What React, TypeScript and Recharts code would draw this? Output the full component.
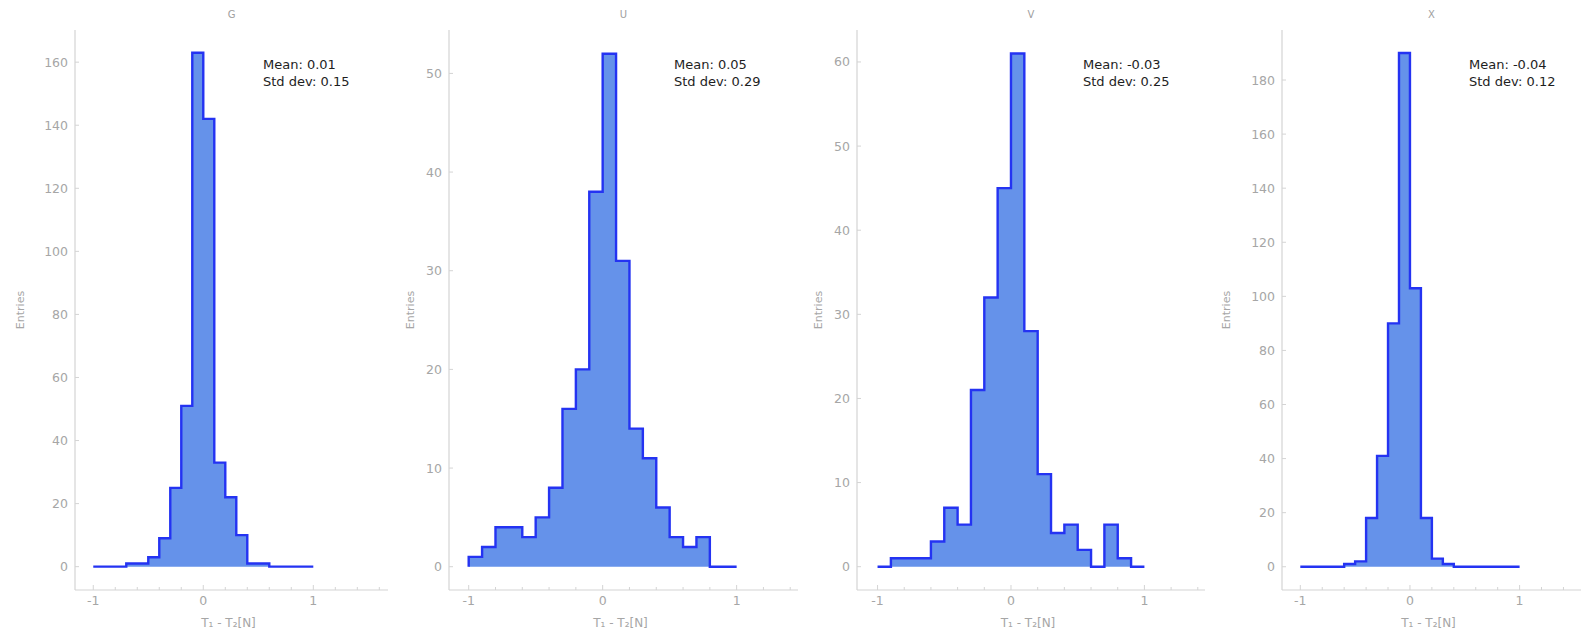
import React from 'react';
import { ComposedChart, Area, XAxis, YAxis } from 'recharts';

// ---------------- data ----------------
const binLeftEdges = [-1, -0.9, -0.8, -0.7, -0.6, -0.5, -0.4, -0.3, -0.2, -0.1, 0, 0.1, 0.2, 0.3, 0.4, 0.5, 0.6, 0.7, 0.8, 0.9];
const rangeMin = -1;
const rangeMax = 1;

const countsG = [0, 0, 0, 1, 1, 3, 9, 25, 51, 163, 142, 33, 22, 10, 1, 1, 0, 0, 0, 0];
const countsU = [1, 2, 4, 4, 3, 5, 8, 16, 20, 38, 52, 31, 14, 11, 6, 3, 2, 3, 0, 0];
const countsV = [0, 1, 1, 1, 3, 7, 5, 21, 32, 45, 61, 28, 11, 4, 5, 2, 0, 5, 1, 0];
const countsX = [0, 0, 0, 0, 1, 2, 18, 41, 90, 190, 103, 18, 3, 1, 0, 0, 0, 0, 0, 0];

const panelTitles = ['G', 'U', 'V', 'X'];
const meanLabels = ['Mean: 0.01', 'Mean: 0.05', 'Mean: -0.03', 'Mean: -0.04'];
const stdLabels = ['Std dev: 0.15', 'Std dev: 0.29', 'Std dev: 0.25', 'Std dev: 0.12'];

const yTicksG = [0, 20, 40, 60, 80, 100, 120, 140, 160];
const yTicksU = [0, 10, 20, 30, 40, 50];
const yTicksV = [0, 10, 20, 30, 40, 50, 60];
const yTicksX = [0, 20, 40, 60, 80, 100, 120, 140, 160, 180];

const xTicksG = [-1, -0.8, -0.6, -0.4, -0.2, 0, 0.2, 0.4, 0.6, 0.8, 1, 1.2, 1.4, 1.6];
const xTicksU = [-1, -0.8, -0.6, -0.4, -0.2, 0, 0.2, 0.4, 0.6, 0.8, 1, 1.2, 1.4];
const xTicksV = [-1, -0.8, -0.6, -0.4, -0.2, 0, 0.2, 0.4, 0.6, 0.8, 1, 1.2, 1.4];
const xTicksX = [-1, -0.8, -0.6, -0.4, -0.2, 0, 0.2, 0.4, 0.6, 0.8, 1, 1.2, 1.4];

const yDomainG: [number, number] = [-7.4, 170.2];
const yDomainU: [number, number] = [-2.36, 54.4];
const yDomainV: [number, number] = [-2.77, 63.8];
const yDomainX: [number, number] = [-8.6, 198.5];

const xDomainG: [number, number] = [-1.166, 1.679];
const xDomainU: [number, number] = [-1.147, 1.458];
const xDomainV: [number, number] = [-1.154, 1.454];
const xDomainX: [number, number] = [-1.167, 1.56];

const xAxisTitle = 'T₁ - T₂[N]';
const yAxisTitle = 'Entries';

// ---------------- helpers ----------------
function stepData(counts: number[]) {
  const rows: { x: number; y: number }[] = [{ x: rangeMin, y: 0 }];
  binLeftEdges.forEach((e, i) => rows.push({ x: e, y: counts[i] }));
  rows.push({ x: rangeMax, y: counts[counts.length - 1] });
  rows.push({ x: rangeMax, y: 0 });
  return rows;
}

const AXIS_COLOR = '#d4d4d4';
const TICK_TEXT = '#a6a6a6';
const FONT = '"DejaVu Sans", "Liberation Sans", sans-serif';

const XTick = (props: any) => {
  const { x, y, payload } = props;
  const v = payload.value as number;
  const major = Math.abs(v - Math.round(v)) < 1e-6;
  return (
    <g>
      <line x1={x} x2={x} y1={y} y2={y - (major ? 5 : 3)} stroke={AXIS_COLOR} strokeWidth={1} />
      {major && (
        <text x={x} y={y + 15} textAnchor="middle" fill={TICK_TEXT} fontSize={12.5} fontFamily={FONT}>
          {Math.round(v)}
        </text>
      )}
    </g>
  );
};

const YTick = (props: any) => {
  const { x, y, payload } = props;
  return (
    <g>
      <line x1={x} x2={x + 4} y1={y} y2={y} stroke={AXIS_COLOR} strokeWidth={1} />
      <text x={x - 7} y={y + 4.5} textAnchor="end" fill={TICK_TEXT} fontSize={12.5} fontFamily={FONT}>
        {payload.value}
      </text>
    </g>
  );
};

type PanelProps = {
  left: number;
  width: number;
  yAxisWidth: number;
  marginRight: number;
  labelX: number;
  counts: number[];
  yTicks: number[];
  xTicks: number[];
  yDomain: [number, number];
  xDomain: [number, number];
  title: string;
  mean: string;
  std: string;
  annotLeft: number;
};

const HEIGHT = 631;
const TOP = 30;
const XAXIS_H = 41;

function Panel(p: PanelProps) {
  const data = stepData(p.counts);
  const plotLeft = p.left + p.yAxisWidth;
  const plotRight = p.left + p.width - p.marginRight;
  const plotCenter = (plotLeft + plotRight) / 2;
  return (
    <>
      <div style={{ position: 'absolute', left: p.left, top: 0 }}>
        <ComposedChart
          width={p.width}
          height={HEIGHT}
          data={data}
          margin={{ top: TOP, right: p.marginRight, bottom: 0, left: 0 }}
        >
          <XAxis
            dataKey="x"
            type="number"
            domain={p.xDomain}
            allowDataOverflow
            ticks={p.xTicks}
            interval={0}
            tickSize={0}
            tickMargin={0}
            tickLine={false}
            height={XAXIS_H}
            axisLine={{ stroke: AXIS_COLOR, strokeWidth: 1.2 }}
            tick={<XTick />}
            label={{
              value: xAxisTitle,
              content: (lp: any) => {
                const vb = lp.viewBox || {};
                return (
                  <text
                    x={vb.x + vb.width / 2 - 3}
                    y={627}
                    textAnchor="middle"
                    fill={TICK_TEXT}
                    fontSize={12}
                    fontFamily={FONT}
                  >
                    {xAxisTitle}
                  </text>
                );
              },
            }}
          />
          <YAxis
            type="number"
            domain={p.yDomain}
            allowDataOverflow
            ticks={p.yTicks}
            interval={0}
            tickSize={0}
            tickMargin={0}
            tickLine={false}
            width={p.yAxisWidth}
            axisLine={{ stroke: AXIS_COLOR, strokeWidth: 1.2 }}
            tick={<YTick />}
            label={{
              value: yAxisTitle,
              content: () => (
                <text
                  x={p.labelX}
                  y={310}
                  transform={`rotate(-90, ${p.labelX}, 310)`}
                  textAnchor="middle"
                  dominantBaseline="central"
                  fill={TICK_TEXT}
                  fontSize={11}
                  fontFamily={FONT}
                >
                  {yAxisTitle}
                </text>
              ),
            }}
          />
          <Area
            type="stepAfter"
            dataKey="y"
            baseValue={0}
            stroke="#2433f2"
            strokeWidth={2.4}
            fill="#6592ea"
            fillOpacity={1}
            isAnimationActive={false}
            dot={false}
            activeDot={false}
          />
        </ComposedChart>
      </div>
      <div
        style={{
          position: 'absolute',
          left: plotCenter - 20,
          width: 40,
          top: 8,
          textAlign: 'center',
          fontFamily: FONT,
          fontSize: 10,
          lineHeight: '14px',
          color: '#a0a0a0',
        }}
      >
        {p.title}
      </div>
      <div
        style={{
          position: 'absolute',
          left: p.annotLeft,
          top: 56,
          fontFamily: FONT,
          fontSize: 13,
          lineHeight: '17px',
          color: '#1e1e1e',
          whiteSpace: 'nowrap',
        }}
      >
        <div>{p.mean}</div>
        <div>{p.std}</div>
      </div>
    </>
  );
}

export default function App() {
  return (
    <div
      style={{
        position: 'absolute',
        left: 0,
        top: 0,
        width: 1581,
        height: 631,
        background: '#fff',
        overflow: 'hidden',
      }}
    >
      <Panel
        left={1180}
        width={401}
        yAxisWidth={102}
        marginRight={0}
        labelX={46}
        counts={countsX}
        yTicks={yTicksX}
        xTicks={xTicksX}
        yDomain={yDomainX}
        xDomain={xDomainX}
        title={panelTitles[3]}
        mean={meanLabels[3]}
        std={stdLabels[3]}
        annotLeft={1469}
      />
      <Panel
        left={0}
        width={400}
        yAxisWidth={75}
        marginRight={12}
        labelX={20}
        counts={countsG}
        yTicks={yTicksG}
        xTicks={xTicksG}
        yDomain={yDomainG}
        xDomain={xDomainG}
        title={panelTitles[0]}
        mean={meanLabels[0]}
        std={stdLabels[0]}
        annotLeft={263}
      />
      <Panel
        left={400}
        width={400}
        yAxisWidth={49}
        marginRight={2}
        labelX={10}
        counts={countsU}
        yTicks={yTicksU}
        xTicks={xTicksU}
        yDomain={yDomainU}
        xDomain={xDomainU}
        title={panelTitles[1]}
        mean={meanLabels[1]}
        std={stdLabels[1]}
        annotLeft={674}
      />
      <Panel
        left={800}
        width={405}
        yAxisWidth={57}
        marginRight={0}
        labelX={18}
        counts={countsV}
        yTicks={yTicksV}
        xTicks={xTicksV}
        yDomain={yDomainV}
        xDomain={xDomainV}
        title={panelTitles[2]}
        mean={meanLabels[2]}
        std={stdLabels[2]}
        annotLeft={1083}
      />
    </div>
  );
}
